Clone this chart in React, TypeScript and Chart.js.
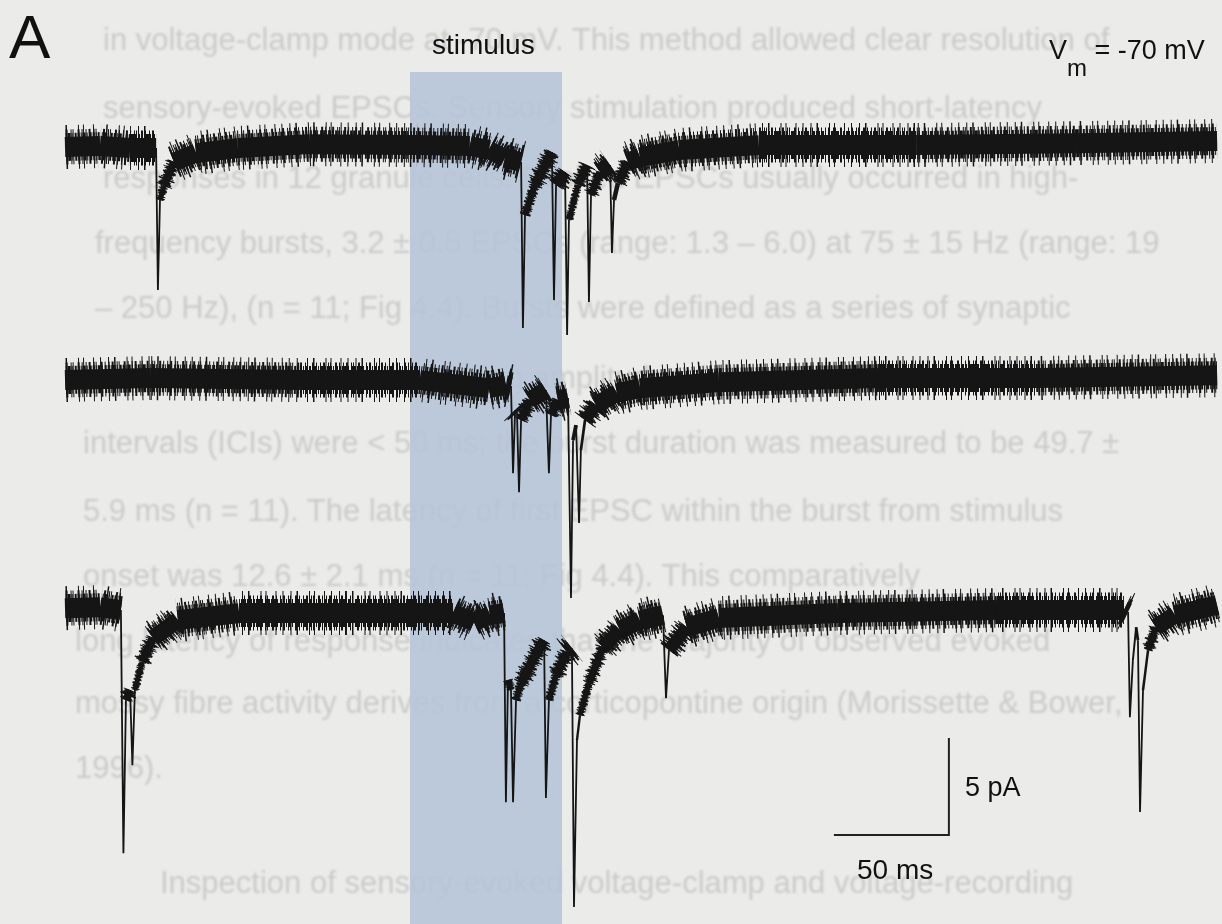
import React, { useEffect, useRef } from "react";
import { Chart, registerables } from "chart.js";

Chart.register(...registerables);

// ---------- data (time in ms, current in pA relative to each trace's baseline) ----------
const trace1Time = [0, 15.2, 28.3, 39.6, 40.4, 41.3, 43.0, 47.4, 57.0, 75.2, 106.5, 153.0, 176.0, 184.3, 191.3, 198.3, 199.1, 200.0, 204.3, 211.7, 212.6, 213.5, 217.4, 218.3, 219.1, 223.0, 227.0, 227.8, 228.7, 232.6, 237.0, 237.8, 238.7, 240.4, 244.8, 250.0, 267.0, 301.7, 370.4, 439.6, 500.9];
const trace1Current = [0, 0.05, -0.05, -0.05, -7.37, -2.73, -2.0, -0.77, -0.31, -0.05, 0.15, 0.1, 0.05, -0.15, -0.57, -0.77, -9.33, -3.5, -1.96, -0.26, -7.89, -1.96, -1.29, -9.69, -3.76, -1.96, -0.93, -7.99, -2.47, -1.29, -0.93, -5.46, -2.73, -1.86, -0.77, -0.52, -0.15, 0.1, 0.1, 0.2, 0.31];

const trace2Time = [0, 37.0, 102.2, 154.3, 184.3, 191.7, 193.9, 194.8, 195.7, 196.5, 197.4, 198.3, 202.2, 209.1, 210.4, 211.3, 214.3, 218.7, 220.0, 220.9, 222.2, 223.5, 224.3, 226.1, 230.9, 240.0, 250.0, 284.3, 353.5, 422.2, 500.9];
const trace2Current = [-0.1, 0, -0.1, -0.1, -0.52, -0.36, -0.41, -4.9, -1.65, -1.75, -5.88, -2.16, -1.13, -0.62, -4.9, -1.9, -1.13, -1.03, -11.34, -3.2, -2.42, -7.47, -3.71, -2.16, -1.39, -0.77, -0.52, -0.21, 0, 0, 0.15];

const trace3Time = [0, 15.2, 24.3, 25.4, 26.5, 28.3, 29.3, 30.4, 33.5, 38.3, 49.1, 75.7, 122.2, 168.7, 177.8, 184.8, 190.9, 191.7, 192.6, 193.9, 194.8, 196.1, 198.3, 204.3, 208.3, 209.1, 210.4, 213.5, 218.3, 220.4, 221.3, 222.6, 223.9, 227.8, 233.9, 241.3, 250.0, 260.0, 261.3, 262.6, 270.4, 284.3, 336.1, 405.2, 460.4, 462.2, 463.0, 464.3, 465.7, 466.5, 467.4, 468.7, 470.9, 474.3, 482.6, 500.9];
const trace3Current = [0.1, 0.15, 0, -12.53, -4.64, -4.12, -7.99, -4.12, -2.68, -1.44, -0.52, -0.15, -0.15, -0.15, -0.62, -0.26, -0.15, -9.9, -3.6, -4.12, -9.9, -4.64, -3.76, -2.37, -1.55, -9.69, -4.64, -3.35, -2.16, -1.96, -15.3, -6.7, -5.41, -3.76, -1.91, -1.03, -0.52, -0.26, -4.54, -2.06, -0.88, -0.41, -0.15, 0, 0, -0.1, -5.52, -2.58, -0.88, -1.55, -10.41, -4.12, -2.06, -0.88, -0.26, 0.26];

// vertical offset of each sweep in the stack (pA)
const traceOffsets = [0, -11.91, -23.87];

// stimulus window (ms) and its top edge (pA)
const stimulusWindow = [150, 216.1];
const stimulusTop = 3.87;

// scale bar: 50 ms by 5 pA
const scaleBarTime = [334.3, 384.3];
const scaleBarCurrent = [-35.46, -30.46];

// axis extents
const timeRange = [-28.26, 503.04];
const currentRange = [-40.05, 7.58];

// labels
const panelLabel = "A";
const stimulusLabel = "stimulus";
const holdingLabel = ["V", "m", " = -70 mV"];
const scaleCurrentLabel = "5 pA";
const scaleTimeLabel = "50 ms";

// faint page text seen through the scanned figure
const pageTextLines = [
  "in voltage-clamp mode at -70 mV. This method allowed clear resolution of",
  "sensory-evoked EPSCs. Sensory stimulation produced short-latency",
  "responses in 12 granule cells. Evoked EPSCs usually occurred in high-",
  "frequency bursts, 3.2 ± 0.5 EPSCs (range: 1.3 – 6.0) at 75 ± 15 Hz (range: 19",
  "– 250 Hz), (n = 11; Fig 4.4). Bursts were defined as a series of synaptic",
  "currents of similar or decreasing amplitudes, in which inter-current",
  "intervals (ICIs) were < 50 ms; the burst duration was measured to be 49.7 ±",
  "5.9 ms (n = 11). The latency of first EPSC within the burst from stimulus",
  "onset was 12.6 ± 2.1 ms (n = 11; Fig 4.4). This comparatively",
  "long latency of response indicates that the majority of observed evoked",
  "mossy fibre activity derives from a corticopontine origin (Morissette & Bower,",
  "1996).",
  "Inspection of sensory-evoked voltage-clamp and voltage-recording",
];
const pageTextLayout = [
  [103, 42], [103, 110], [103, 180], [95, 245], [95, 310], [83, 380], [83, 445],
  [83, 513], [83, 578], [75, 643], [75, 705], [75, 770], [160, 885],
];

// ---------- styling helpers ----------
const TRACE_COLOR = "#151515";
const CLEAR = "rgba(0,0,0,0)";
const slopeOf = (c: any) => {
  const dx = Math.abs(c.p1.x - c.p0.x);
  const dy = Math.abs(c.p1.y - c.p0.y);
  return dx < 1e-6 ? 1e6 : dy / dx;
};
const widthFor = (band: number, min: number) => (c: any) =>
  Math.max(min, band / Math.sqrt(1 + slopeOf(c) * slopeOf(c)));

// noise texture layers: [vertical extent px, dash pattern, max slope, dash offset period]
const noiseLayers: [number, number[], number, number][] = [
  [28, [2, 1, 1, 1, 3, 1, 1, 2, 2, 1], 4, 7],
  [35, [1, 2, 2, 3, 1, 1, 1, 4, 2, 2, 1, 3], 4, 9],
  [44, [1, 7, 1, 5, 1.5, 11, 1, 4, 1, 9, 1, 6], 3, 13],
];

function traceDatasets(time: number[], current: number[], offset: number) {
  const pts = time.map((t, i) => ({ x: t, y: current[i] + offset }));
  const base = {
    type: "line" as const,
    data: pts,
    pointRadius: 0,
    tension: 0,
    fill: false,
    borderCapStyle: "butt" as const,
    borderColor: TRACE_COLOR,
  };
  const core = {
    ...base,
    order: 1,
    borderWidth: 20,
    segment: { borderWidth: widthFor(20, 1.8) },
  };
  const layers = noiseLayers.map(([extent, dash, maxSlope, period], k) => ({
    ...base,
    order: 2 + k,
    borderWidth: extent,
    borderDash: dash,
    segment: {
      borderWidth: widthFor(extent, 0.5),
      borderColor: (c: any) => (slopeOf(c) > maxSlope ? CLEAR : TRACE_COLOR),
      borderDashOffset: (c: any) => c.p0.x % period,
    },
  }));
  return [core, ...layers];
}

export default function App() {
  const canvasRef = useRef<HTMLCanvasElement>(null);

  useEffect(() => {
    const canvas = canvasRef.current;
    if (!canvas) return;
    const datasets: any[] = [
      ...traceDatasets(trace1Time, trace1Current, traceOffsets[0]),
      ...traceDatasets(trace2Time, trace2Current, traceOffsets[1]),
      ...traceDatasets(trace3Time, trace3Current, traceOffsets[2]),
      {
        type: "line",
        label: "scale bar",
        data: [
          { x: scaleBarTime[0], y: scaleBarCurrent[0] },
          { x: scaleBarTime[1], y: scaleBarCurrent[0] },
          { x: scaleBarTime[1], y: scaleBarCurrent[1] },
        ],
        borderColor: "#222222",
        borderWidth: 2,
        pointRadius: 0,
        tension: 0,
        fill: false,
        order: 0,
      },
      {
        type: "line",
        label: "stimulus",
        data: [
          { x: stimulusWindow[0], y: stimulusTop },
          { x: stimulusWindow[1], y: stimulusTop },
        ],
        borderWidth: 0,
        pointRadius: 0,
        fill: "start",
        backgroundColor: "rgba(180,196,215,0.86)",
        order: 10,
      },
    ];
    const chart = new Chart(canvas, {
      type: "line",
      data: { datasets },
      options: {
        animation: false,
        responsive: false,
        devicePixelRatio: 1,
        events: [],
        layout: { padding: 0 },
        plugins: { legend: { display: false }, tooltip: { enabled: false } },
        scales: {
          x: { type: "linear", min: timeRange[0], max: timeRange[1], display: false },
          y: { type: "linear", min: currentRange[0], max: currentRange[1], display: false },
        },
      },
    });
    return () => chart.destroy();
  }, []);

  const font = '"Liberation Sans", Arial, Helvetica, sans-serif';

  return (
    <div
      style={{
        position: "fixed",
        left: 0,
        top: 0,
        width: 1222,
        height: 924,
        overflow: "hidden",
        background: "#ebebea",
        fontFamily: font,
      }}
    >
      {pageTextLines.map((line, i) => (
        <div
          key={i}
          style={{
            position: "absolute",
            left: pageTextLayout[i][0],
            top: pageTextLayout[i][1] - 18,
            fontSize: 31,
            lineHeight: "31px",
            color: "#cbcbca",
            whiteSpace: "nowrap",
            filter: "blur(0.9px)",
          }}
        >
          {line}
        </div>
      ))}
      <canvas
        ref={canvasRef}
        width={1222}
        height={924}
        style={{ position: "absolute", left: 0, top: 0, width: 1222, height: 924 }}
      />
      <div style={{ position: "absolute", left: 9, top: 6, fontSize: 62, lineHeight: "62px", color: "#111" }}>
        {panelLabel}
      </div>
      <div style={{ position: "absolute", left: 432, top: 31, fontSize: 28, lineHeight: "28px", color: "#111" }}>
        {stimulusLabel}
      </div>
      <div
        style={{
          position: "absolute",
          left: 1049,
          top: 37,
          fontSize: 27,
          lineHeight: "27px",
          color: "#111",
          whiteSpace: "nowrap",
        }}
      >
        <span>{holdingLabel[0]}</span>
        <span style={{ fontSize: 24, position: "relative", top: 17 }}>{holdingLabel[1]}</span>
        <span>{holdingLabel[2]}</span>
      </div>
      <div style={{ position: "absolute", left: 965, top: 774, fontSize: 27, lineHeight: "27px", color: "#111" }}>
        {scaleCurrentLabel}
      </div>
      <div style={{ position: "absolute", left: 857, top: 856, fontSize: 28, lineHeight: "28px", color: "#111" }}>
        {scaleTimeLabel}
      </div>
    </div>
  );
}
